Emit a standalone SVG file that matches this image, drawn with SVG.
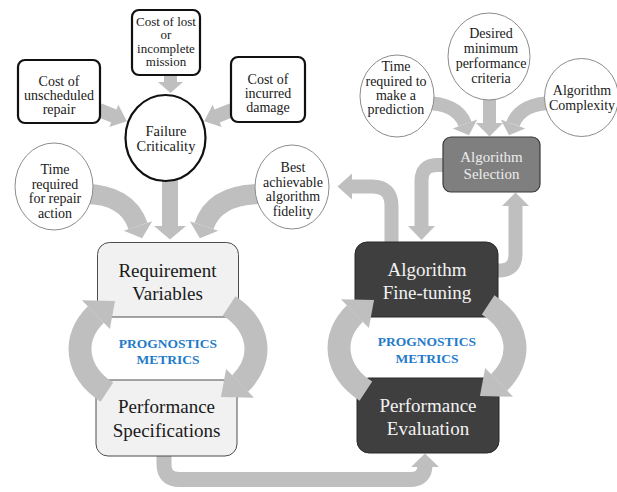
<svg xmlns="http://www.w3.org/2000/svg" width="617" height="492" viewBox="0 0 617 492">
<defs>
<style>
.conn{fill:none;stroke:#bfbfbf}
.head{fill:#bfbfbf}
.sm{font-family:"Liberation Serif","Times New Roman",serif;font-size:14px;fill:#1a1a1a;text-anchor:middle}
.big{font-family:"Liberation Serif","Times New Roman",serif;font-size:19px;fill:#1a1a1a;text-anchor:middle}
.sel{font-family:"Liberation Serif","Times New Roman",serif;font-size:15px;fill:#ececec;text-anchor:middle}
.wt{fill:#f2f2f2}
.metric{font-family:"Liberation Serif","Times New Roman",serif;font-size:13.5px;font-weight:bold;fill:#1f7bc9;text-anchor:middle}
.box{fill:#fff;stroke:#111;stroke-width:2.2}
.circ{fill:#fff;stroke:#111;stroke-width:2.2}
.oval{fill:#fff;stroke:#8c8c8c;stroke-width:1}
.light{fill:#f1f1f1;stroke:#4d4d4d;stroke-width:1}
.dark{fill:#3f3f3f;stroke:#2a2a2a;stroke-width:1}
.mid{fill:#7f7f7f;stroke:#3a3a3a;stroke-width:1.2}
</style>
</defs>
<rect width="617" height="492" fill="#fff"/>

<g id="connectors">
  <!-- into Failure Criticality -->
  <polygon class="head" transform="translate(99,110) rotate(22)" points="0,-7 16,-7 16,-12 30,0 16,12 16,7 0,7"/>
  <polygon class="head" transform="translate(232,110) rotate(158)" points="0,-7 16,-7 16,-12 30,0 16,12 16,7 0,7"/>
  <polygon class="head" points="164,74 177,74 177,82 183,82 170.5,93 158,82 164,82"/>
  <!-- into Requirement Variables -->
  <path class="conn" stroke-width="20" d="M85,194 C112,194 131,205 138,226"/>
  <polygon class="head" points="123.8,230.7 152.2,221.3 142.1,238.3"/>
  <path class="conn" stroke-width="20" d="M262,194 C230,194 211,205 204,226"/>
  <polygon class="head" points="218.2,230.7 189.8,221.3 199.9,238.3"/>
  <rect class="head" x="162" y="175" width="16" height="52"/>
  <polygon class="head" points="154,226 186,226 170,239.5"/>
  <!-- into Algorithm Selection -->
  <path class="conn" stroke-width="14" d="M425,103 C445,103 460,110 465,124"/>
  <polygon class="head" points="452.8,128.4 477.2,119.6 469,135.3"/>
  <path class="conn" stroke-width="14" d="M553,103 C533,103 518,110 513,124"/>
  <polygon class="head" points="525.2,128.4 500.8,119.6 509,135.3"/>
  <rect class="head" x="483" y="95" width="13" height="29"/>
  <polygon class="head" points="476,123 503,123 489.5,136.5"/>
  <!-- Algorithm Selection -> Algorithm Fine-tuning -->
  <path class="conn" stroke-width="14" d="M444,165 H437 Q421.5,165 421.5,181 V227"/>
  <polygon class="head" points="408,226 435,226 421.5,240"/>
  <!-- Algorithm Fine-tuning -> Best achievable algorithm fidelity -->
  <path class="conn" stroke-width="14" d="M391.5,243 V206 Q391.5,186.5 372,186.5 H351"/>
  <polygon class="head" points="352,173.5 352,199.5 337.5,186.5"/>
  <!-- Algorithm Fine-tuning -> Algorithm Selection -->
  <path class="conn" stroke-width="14" d="M497,270.5 H499 Q515.5,270.5 515.5,254 V205"/>
  <polygon class="head" points="502,206 529,206 515.5,192.5"/>
  <!-- Performance Specifications -> Performance Evaluation -->
  <path class="conn" stroke-width="15" d="M164,455 V464 Q164,479.5 179.5,479.5 H410 Q425,479.5 425,465 V467"/>
  <polygon class="head" points="411,467 439,467 425,453.5"/>
</g>

<g id="node-unscheduled">
  <rect class="box" x="18" y="60" width="82" height="63" rx="7"/>
  <text class="sm"><tspan x="59" y="86">Cost of</tspan><tspan x="59" y="100">unscheduled</tspan><tspan x="59" y="114">repair</tspan></text>
</g>
<g id="node-mission">
  <rect class="box" x="132" y="10" width="68" height="65" rx="7"/>
  <text class="sm" style="font-size:13px"><tspan x="166" y="25.5">Cost of lost</tspan><tspan x="166" y="39">or</tspan><tspan x="166" y="52.5">incomplete</tspan><tspan x="166" y="66">mission</tspan></text>
</g>
<g id="node-damage">
  <rect class="box" x="231" y="57" width="74" height="65" rx="7"/>
  <text class="sm"><tspan x="268" y="84">Cost of</tspan><tspan x="268" y="98">incurred</tspan><tspan x="268" y="112">damage</tspan></text>
</g>
<g id="node-failure">
  <ellipse class="circ" cx="165.5" cy="138" rx="40" ry="43"/>
  <text class="sm" style="font-size:14.5px"><tspan x="166" y="136">Failure</tspan><tspan x="166" y="151">Criticality</tspan></text>
</g>
<g id="node-repair-time">
  <ellipse class="oval" cx="54" cy="186.5" rx="39" ry="43.5"/>
  <text class="sm"><tspan x="55" y="174">Time</tspan><tspan x="55" y="188.5">required</tspan><tspan x="55" y="203">for repair</tspan><tspan x="55" y="217.5">action</tspan></text>
</g>
<g id="node-fidelity">
  <ellipse class="oval" cx="292" cy="187" rx="37" ry="42"/>
  <text class="sm"><tspan x="293" y="172">Best</tspan><tspan x="293" y="186.5">achievable</tspan><tspan x="293" y="201">algorithm</tspan><tspan x="293" y="215.5">fidelity</tspan></text>
</g>
<g id="node-prediction-time">
  <ellipse class="oval" cx="397" cy="96" rx="37" ry="41"/>
  <text class="sm"><tspan x="396" y="71">Time</tspan><tspan x="396" y="85.5">required to</tspan><tspan x="396" y="99.5">make a</tspan><tspan x="396" y="114">prediction</tspan></text>
</g>
<g id="node-desired">
  <ellipse class="oval" cx="489" cy="56.5" rx="41" ry="43.5"/>
  <text class="sm"><tspan x="491" y="38">Desired</tspan><tspan x="491" y="53">minimum</tspan><tspan x="491" y="68">performance</tspan><tspan x="491" y="83">criteria</tspan></text>
</g>
<g id="node-complexity">
  <ellipse class="oval" cx="581.5" cy="97.5" rx="37" ry="39"/>
  <text class="sm"><tspan x="582" y="95">Algorithm</tspan><tspan x="582" y="109.5">Complexity</tspan></text>
</g>
<g id="node-selection">
  <rect class="mid" x="443" y="137" width="97" height="55" rx="8"/>
  <text class="sel"><tspan x="491.5" y="162">Algorithm</tspan><tspan x="491.5" y="179">Selection</tspan></text>
</g>
<g id="node-requirement">
  <rect class="light" x="97.5" y="242.5" width="141" height="74.5" rx="12"/>
  <text class="big"><tspan x="167.5" y="277">Requirement</tspan><tspan x="167.5" y="300">Variables</tspan></text>
</g>
<g id="node-specifications">
  <rect class="light" x="96" y="380" width="141" height="76" rx="12"/>
  <text class="big"><tspan x="166.5" y="413">Performance</tspan><tspan x="166.5" y="436.5">Specifications</tspan></text>
</g>
<g id="node-finetuning">
  <rect class="dark" x="355" y="242" width="143" height="75" rx="12"/>
  <text class="big wt"><tspan x="427" y="276">Algorithm</tspan><tspan x="427" y="299">Fine-tuning</tspan></text>
</g>
<g id="node-evaluation">
  <rect class="dark" x="357" y="378" width="142" height="75" rx="12"/>
  <text class="big wt"><tspan x="428" y="412">Performance</tspan><tspan x="428" y="435">Evaluation</tspan></text>
</g>

<g id="cycle-connectors">
  <path class="conn" stroke-width="23" d="M229.13,305.84 A88,60 0 0 1 240.09,383.41"/>
  <polygon class="head" points="254.04,397.74 226.14,369.08 220.96,396.92"/>
  <path class="conn" stroke-width="23" d="M106.87,392.16 A88,60 0 0 1 95.91,314.59"/>
  <polygon class="head" points="81.96,300.26 109.86,328.92 115.04,301.08"/>
  <path class="conn" stroke-width="23" d="M488.13,304.84 A88,60 0 0 1 499.09,382.41"/>
  <polygon class="head" points="513.04,396.74 485.14,368.08 479.96,395.92"/>
  <path class="conn" stroke-width="23" d="M365.87,391.16 A88,60 0 0 1 354.91,313.59"/>
  <polygon class="head" points="340.96,299.26 368.86,327.92 374.04,300.08"/>
</g>

<g id="labels">
  <text class="metric"><tspan x="168" y="347.5">PROGNOSTICS</tspan><tspan x="168" y="364">METRICS</tspan></text>
  <text class="metric"><tspan x="427" y="346">PROGNOSTICS</tspan><tspan x="427" y="362.5">METRICS</tspan></text>
</g>
</svg>
